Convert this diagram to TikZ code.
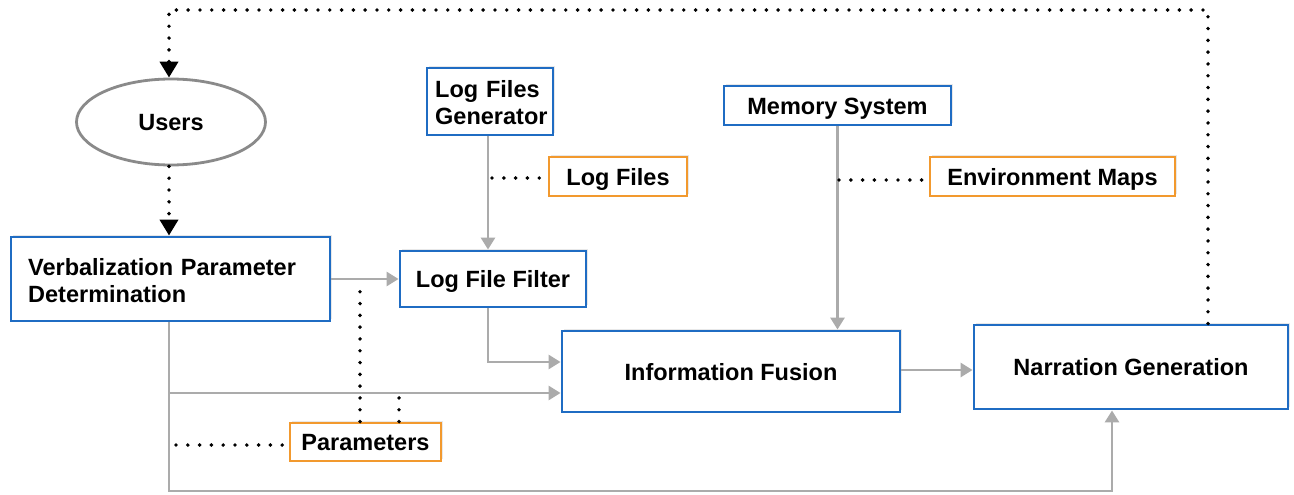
\documentclass[tikz,border=0pt]{standalone}
\usepackage{fontspec}
\setmainfont{Liberation Sans}
\usetikzlibrary{arrows.meta,shapes.geometric,shadows}
\definecolor{bblue}{HTML}{1F6CC3}
\definecolor{borange}{HTML}{F2992E}
\definecolor{lgray}{HTML}{ABABAB}
\definecolor{egray}{HTML}{8A8A8A}
\tikzset{
  txt/.style={font=\fontsize{23.5}{27}\selectfont\bfseries, text=black},
  shad/.style={drop shadow={shadow xshift=2pt, shadow yshift=2pt, fill=black!18}},
  bluebox/.style={txt, shad, draw=bblue, fill=white, line width=2.9pt, inner sep=0pt, align=center, text height=17pt, text depth=0pt},
  orangebox/.style={txt, shad, draw=borange, fill=white, line width=2.9pt, inner sep=0pt, align=center, text height=17pt, text depth=0pt},
  grayarrow/.style={draw=lgray, line width=2.9pt, -{Triangle[length=12pt,width=14pt]}},
  dotline/.style={draw=black, line width=3.9pt, line cap=round, dash pattern=on 0pt off 11.8pt},
  dotarrow/.style={dotline, -{Triangle[length=16pt,width=18pt,line cap=butt]}},
}
\begin{document}
\begin{tikzpicture}[x=1pt,y=-1pt]
\useasboundingbox (0,0) rectangle (1294,495);

% nodes
\node[txt, draw=egray, line width=2.8pt, fill=white, ellipse, minimum width=189pt, minimum height=86pt, inner sep=0pt, text height=17pt, text depth=0pt] (users) at (171,122) {Users};
\node[bluebox, minimum width=319pt, minimum height=84pt] (vpd) at (170.5,279) {};
\node[txt, text width=285pt, align=left, inner sep=0pt, anchor=west] (vpdtext) at (28,281) {Verbalization Parameter\\Determination};
\node[bluebox, minimum width=126pt, minimum height=67pt] (lfg) at (490,101.5) {};
\node[txt, text width=115pt, align=left, inner sep=0pt, anchor=west] (lfgtext) at (435,103) {Log Files\\Generator};
\node[orangebox, minimum width=138pt, minimum height=39pt] (lf) at (618,176.5) {Log Files};
\node[bluebox, minimum width=227pt, minimum height=39pt] (mem) at (837.5,105.5) {Memory System};
\node[orangebox, minimum width=245pt, minimum height=39pt] (env) at (1052.5,176.5) {Environment Maps};
\node[bluebox, minimum width=186pt, minimum height=56pt] (lff) at (493,279) {Log File Filter};
\node[bluebox, minimum width=338pt, minimum height=81pt] (inf) at (731,371.5) {Information Fusion};
\node[bluebox, minimum width=314pt, minimum height=84pt] (nar) at (1131,367) {Narration Generation};
\node[orangebox, minimum width=151pt, minimum height=38pt] (par) at (365.5,442) {Parameters};

% coordinates
\coordinate (topR) at (1208,10);
\coordinate (topL) at (169,10);
\coordinate (lfgx) at (488,0);
\coordinate (lfdot) at (492,178);
\coordinate (envdot) at (839,180);
\coordinate (lffin) at (0,362);
\coordinate (vpdin) at (0,393);
\coordinate (vx) at (169,0);
\coordinate (bot) at (169,491);
\coordinate (narx) at (1112,0);
\coordinate (fuse) at (0,370);
\coordinate (pleft) at (176,445);
\coordinate (pd1) at (360,0);
\coordinate (pd1top) at (360,290);
\coordinate (pd2) at (399,0);
\coordinate (pd2top) at (399,396);

% dotted feedback
\draw[dotarrow] (nar.north -| topR) -- (topR) -- (topL) -- (topL |- users.north);
\draw[dotarrow] (users.south -| topL) -- (topL |- vpd.north);

% gray flows
\draw[grayarrow] (vpd.east) -- (lff.west);
\draw[grayarrow] (lfg.south -| lfgx) -- (lfgx |- lff.north);
\draw[grayarrow] (lff.south -| lfgx) -- (lfgx |- lffin) -- (inf.west |- lffin);
\draw[grayarrow] (vpd.south -| vx) -- (bot) -- (narx |- bot) -- (narx |- nar.south);
\draw[grayarrow] (vx |- vpdin) -- (inf.west |- vpdin);
\draw[grayarrow] (mem.south) -- (mem.south |- inf.north);
\draw[grayarrow] (inf.east |- fuse) -- (nar.west |- fuse);

% dotted annotations
\draw[dotline] (lfdot) -- (lf.west |- lfdot);
\draw[dotline] (envdot) -- (env.west |- envdot);
\draw[dotline] (pleft) -- (par.west |- pleft);
\draw[dotline] (pd1 |- par.north) -- (pd1top);
\draw[dotline] (pd2 |- par.north) -- (pd2top);
\end{tikzpicture}
\end{document}
